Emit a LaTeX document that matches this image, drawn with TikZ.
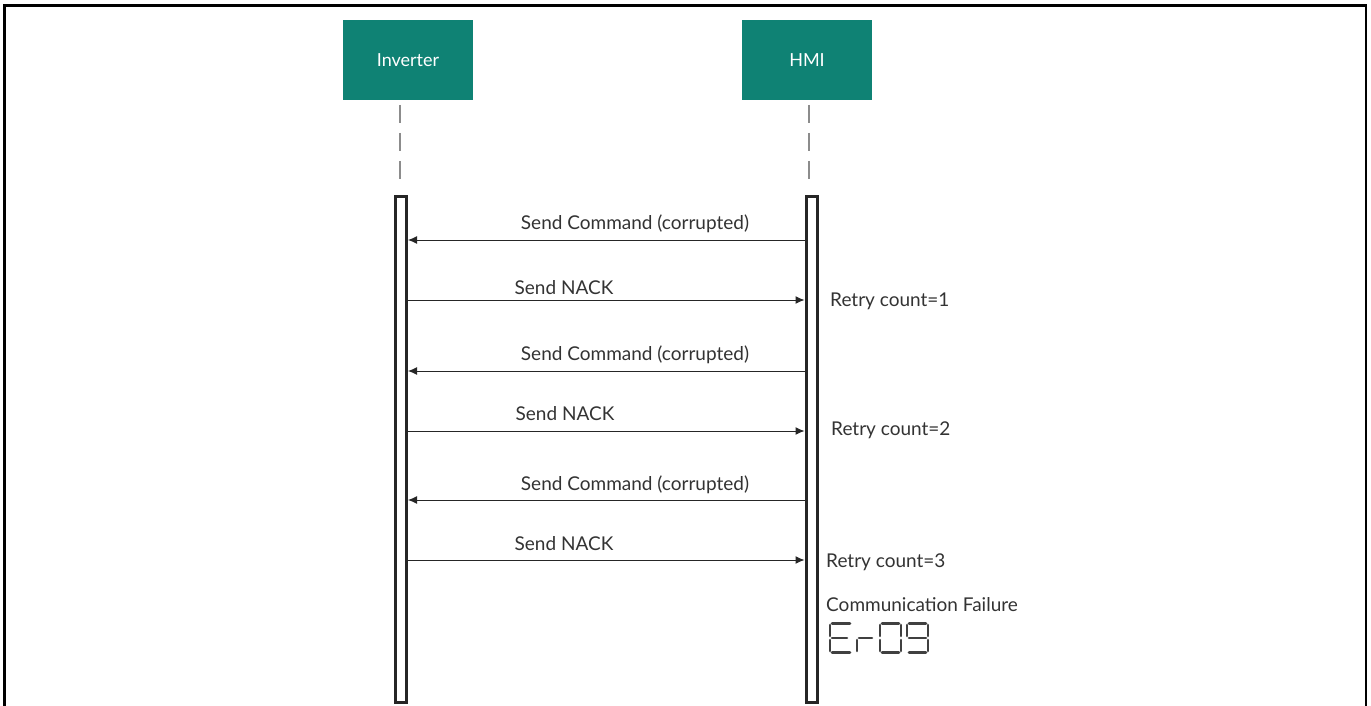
\documentclass[tikz,border=0pt]{standalone}
\usepackage{fontspec}
\setmainfont{Lato}
\usetikzlibrary{arrows.meta,positioning}

\definecolor{teal}{HTML}{0F8274}
\definecolor{txt}{HTML}{333333}
\definecolor{lifeline}{HTML}{8C8C8C}

\begin{document}
\begin{tikzpicture}[x=1pt,y=-1pt]
\tikzstyle{every node}+=[inner sep=0pt]
\tikzstyle{actor}=[fill=teal, minimum width=130pt, minimum height=80pt, text=white, font=\fontsize{18}{18}\selectfont]
\tikzstyle{actbar}=[draw=black!85, line width=3pt, fill=white, minimum width=11pt, minimum height=506pt]
\tikzstyle{msg}=[draw=black!85, line width=1pt, -{Latex[length=9pt,width=8pt]}]
\tikzstyle{lbl}=[text=txt, font=\fontsize{19}{19}\selectfont]
\tikzstyle{seg}=[draw=black!75, line width=2.6pt, line cap=round]
\useasboundingbox (0,0) rectangle (1371,706);
% frame
\draw [black, line width=2.5pt] (4.5,710) -- (4.5,5.5) -- (1366,5.5) -- (1366,710);
% actors
\node [actor] (inv) at (408,60) {Inverter};
\node [actor] (hmi) at (807,60) {HMI};
\draw [lifeline, line width=2pt, dash pattern=on 18pt off 10pt] (400,105) -- (400,183);
\draw [lifeline, line width=2pt, dash pattern=on 18pt off 10pt] (809,105) -- (809,183);
% activation bars
\node [actbar] (invbar) at (401,449.5) {};
\node [actbar] (hmibar) at (811.5,449.5) {};
% messages
\draw [msg] (hmibar.west |- 0,240) -- (invbar.east |- 0,240);
\node [lbl] (c1) at (635,224) {Send Command (corrupted)};
\draw [msg] (invbar.east |- 0,300) -- (hmibar.west |- 0,300);
\node [lbl] (n1) at (564,288) {Send NACK};
\node [lbl, anchor=west] (r1) at (830,301) {Retry count=1};
\draw [msg] (hmibar.west |- 0,371) -- (invbar.east |- 0,371);
\node [lbl] (c2) at (635,355) {Send Command (corrupted)};
\draw [msg] (invbar.east |- 0,431) -- (hmibar.west |- 0,431);
\node [lbl] (n2) at (565,414) {Send NACK};
\node [lbl, anchor=west] (r2) at (831,430) {Retry count=2};
\draw [msg] (hmibar.west |- 0,500) -- (invbar.east |- 0,500);
\node [lbl] (c3) at (635,485) {Send Command (corrupted)};
\draw [msg] (invbar.east |- 0,560) -- (hmibar.west |- 0,560);
\node [lbl] (n3) at (564,544) {Send NACK};
\node [lbl, anchor=west] (r3) at (826,562) {Retry count=3};
\node [lbl, anchor=west] (fail) at (826,605) {Communication Failure};
% error code, seven segment style
\draw [seg] (830,625) -- (830,636) (830,640) -- (830,651);
\draw [seg] (832,623.5) -- (850,623.5) (832,638) -- (847,638) (832,652.5) -- (850,652.5);
\draw [seg] (857,640) -- (857,651) (859,638) -- (872,638);
\draw [seg] (882,623.5) -- (899,623.5) (882,652.5) -- (899,652.5);
\draw [seg] (880,625) -- (880,636) (880,640) -- (880,651) (901,625) -- (901,636) (901,640) -- (901,651);
\draw [seg] (909,623.5) -- (926,623.5) (909,638) -- (926,638) (909,652.5) -- (926,652.5);
\draw [seg] (907,625) -- (907,636) (928,625) -- (928,636) (928,640) -- (928,651);
\end{tikzpicture}
\end{document}
